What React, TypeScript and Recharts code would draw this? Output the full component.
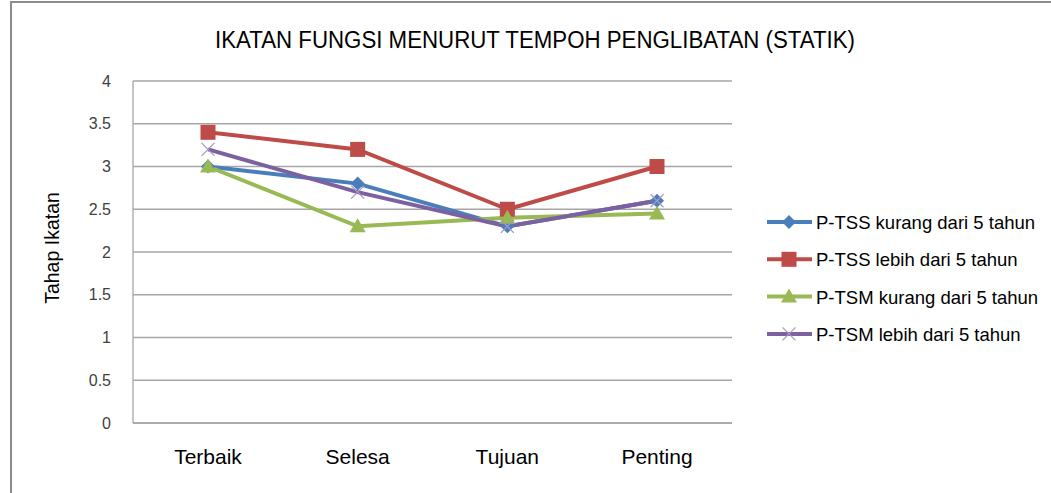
import React from "react";
import { LineChart, Line, XAxis, YAxis, CartesianGrid } from "recharts";

const categories = ["Terbaik", "Selesa", "Tujuan", "Penting"];
const tssKurang = [3.0, 2.8, 2.3, 2.6];
const tssLebih = [3.4, 3.2, 2.5, 3.0];
const tsmKurang = [3.0, 2.3, 2.4, 2.45];
const tsmLebih = [3.2, 2.7, 2.3, 2.6];
const yTicks = [0, 0.5, 1, 1.5, 2, 2.5, 3, 3.5, 4];

const FONT = "'Liberation Sans Narrow', 'Liberation Sans', Arial, sans-serif";

type Shape = "diamond" | "square" | "triangle" | "cross";

const series: { key: string; name: string; color: string; shape: Shape; values: number[] }[] = [
  { key: "a", name: "P-TSS kurang dari 5 tahun", color: "#4A7EBB", shape: "diamond", values: tssKurang },
  { key: "b", name: "P-TSS lebih dari 5 tahun", color: "#BE4B48", shape: "square", values: tssLebih },
  { key: "c", name: "P-TSM kurang dari 5 tahun", color: "#98B954", shape: "triangle", values: tsmKurang },
  { key: "d", name: "P-TSM lebih dari 5 tahun", color: "#7D60A0", shape: "cross", values: tsmLebih },
];

const data = categories.map((c, i) => {
  const row: Record<string, string | number> = { cat: c };
  series.forEach((s) => (row[s.key] = s.values[i]));
  return row;
});

function marker(shape: Shape, color: string, cx: number, cy: number, key?: string) {
  if (shape === "diamond") {
    const r = 7;
    return <polygon key={key} points={`${cx},${cy - r} ${cx + r},${cy} ${cx},${cy + r} ${cx - r},${cy}`} fill={color} />;
  }
  if (shape === "square") {
    const r = 7.5;
    return <rect key={key} x={cx - r} y={cy - r} width={r * 2} height={r * 2} fill={color} />;
  }
  if (shape === "triangle") {
    const r = 8;
    return <polygon key={key} points={`${cx},${cy - r} ${cx + r},${cy + r * 0.75} ${cx - r},${cy + r * 0.75}`} fill={color} />;
  }
  const r = 6.5;
  return (
    <g key={key} stroke="#A796C4" strokeWidth={1.3}>
      <line x1={cx - r} y1={cy - r} x2={cx + r} y2={cy + r} />
      <line x1={cx - r} y1={cy + r} x2={cx + r} y2={cy - r} />
    </g>
  );
}

export default function App() {
  return (
    <div style={{ position: "absolute", left: 0, top: 0, width: 1051, height: 493, background: "#fff", overflow: "hidden" }}>
      <div
        style={{
          position: "absolute",
          left: 10,
          top: 1,
          width: 1100,
          height: 600,
          borderLeft: "2px solid #8c8c8c",
          borderTop: "2px solid #8c8c8c",
        }}
      />
      <div style={{ position: "absolute", left: 0, top: 0 }}>
        <LineChart width={1051} height={493} data={data} margin={{ top: 81, right: 319, bottom: 40, left: 60 }}>
          <CartesianGrid vertical={false} stroke="#a6a6a6" strokeWidth={1.3} />
          <XAxis
            dataKey="cat"
            padding={{ left: 75, right: 75 }}
            stroke="#a6a6a6"
            strokeWidth={1.3}
            tickLine={false}
            tickMargin={20}
            tick={{ fontSize: 21, fill: "#000", fontFamily: FONT }}
          />
          <YAxis
            width={73}
            domain={[0, 4]}
            ticks={yTicks}
            stroke="#a6a6a6"
            strokeWidth={1.3}
            tickLine={false}
            tickMargin={16}
            tick={{ fontSize: 16, fill: "#404040", fontFamily: "'Liberation Sans', Arial, sans-serif" }}
          />
          {series.map((s) => (
            <Line
              key={s.key}
              dataKey={s.key}
              name={s.name}
              type="linear"
              stroke={s.color}
              strokeWidth={4}
              isAnimationActive={false}
              dot={(p: any) => marker(s.shape, s.color, p.cx, p.cy, `${s.key}-${p.index}`)}
              activeDot={false}
            />
          ))}
        </LineChart>
      </div>
      <svg width={1051} height={493} style={{ position: "absolute", left: 0, top: 0, pointerEvents: "none" }}>
        <text
          x={215}
          y={48}
          textLength={640}
          lengthAdjust="spacingAndGlyphs"
          fontFamily={FONT}
          fontSize={23}
          fill="#000"
        >
          IKATAN FUNGSI MENURUT TEMPOH PENGLIBATAN (STATIK)
        </text>
        <text
          transform="translate(59,248) rotate(-90)"
          textAnchor="middle"
          fontFamily={FONT}
          fontSize={19.5}
          fill="#000"
        >
          Tahap Ikatan
        </text>
        {series.map((s, i) => {
          const y = 222 + i * 37.3;
          return (
            <g key={s.key}>
              <line x1={767} x2={812} y1={y} y2={y} stroke={s.color} strokeWidth={4} />
              {marker(s.shape, s.color, 789, y)}
              <text x={816} y={y + 7} fontFamily={FONT} fontSize={18.5} fill="#000">
                {s.name}
              </text>
            </g>
          );
        })}
      </svg>
    </div>
  );
}
